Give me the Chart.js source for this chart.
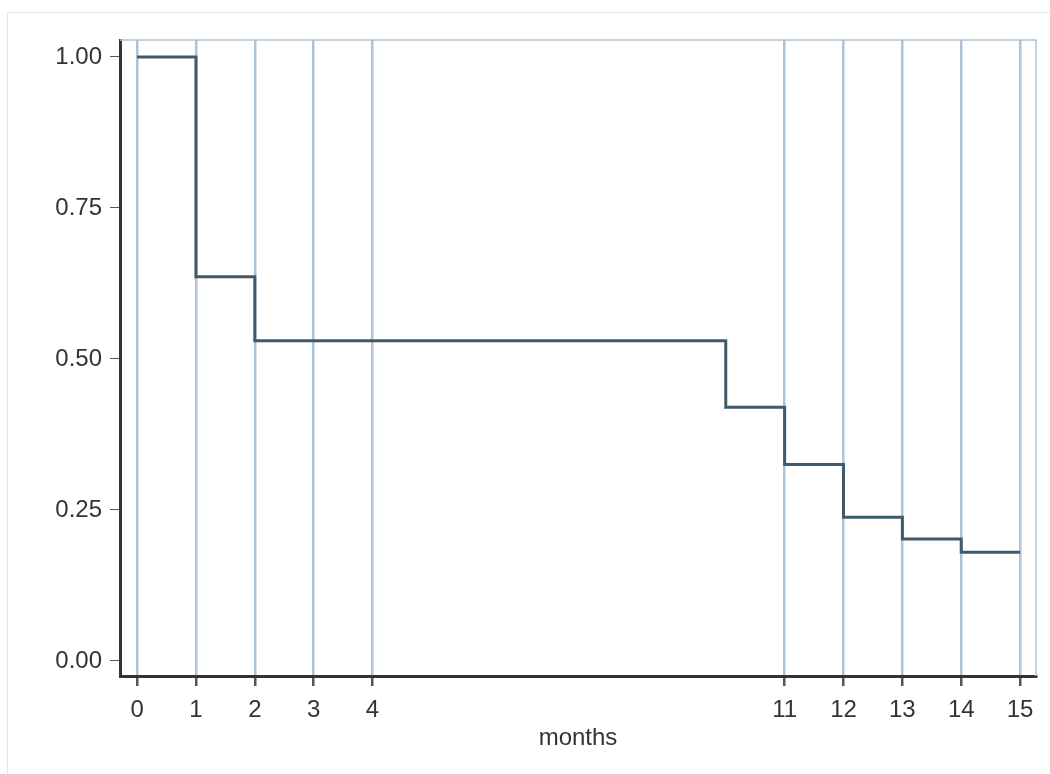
<!DOCTYPE html>
<html>
<head>
<meta charset="utf-8">
<script src="https://cdn.jsdelivr.net/npm/chart.js@4/dist/chart.umd.min.js"></script>
<style>
  html, body { margin: 0; padding: 0; background: #fff; overflow: hidden; }
  #frame { position: absolute; left: 7px; top: 12px; width: 1100px; height: 800px;
           border-left: 1px solid #e6e6e6; border-top: 1px solid #e6e6e6; }
  #survChart { position: absolute; left: 0; top: 0; }
</style>
</head>
<body>
<div id="frame"></div>
<canvas id="survChart" width="1050" height="774"></canvas>
<script>
// survival curve: value holds from each time until the next one
const months = [0, 1, 2, 10, 11, 12, 13, 14, 15];
const survival = [1.0, 0.636, 0.53, 0.42, 0.325, 0.238, 0.202, 0.18, 0.18];
const xTicks = [0, 1, 2, 3, 4, 11, 12, 13, 14, 15];
const yTicks = [0, 0.25, 0.5, 0.75, 1.0];

const gridBlue = '#adc3d8';
const ink = '#333333';
const labelFont = { family: 'Liberation Sans, Arial, sans-serif', size: 24 };

// light frame on top and right of the plot panel
const panelFrame = {
  id: 'panelFrame',
  afterDatasetsDraw(chart) {
    const a = chart.chartArea;
    const ctx = chart.ctx;
    ctx.save();
    ctx.strokeStyle = gridBlue;
    ctx.lineWidth = 1.5;
    ctx.beginPath();
    ctx.moveTo(a.left, a.top);
    ctx.lineTo(a.right, a.top);
    ctx.lineTo(a.right, a.bottom);
    ctx.stroke();
    ctx.restore();
  }
};

const ctx = document.getElementById('survChart').getContext('2d');
new Chart(ctx, {
  type: 'line',
  data: {
    datasets: [{
      data: months.map((m, i) => ({ x: m, y: survival[i] })),
      stepped: true,
      borderColor: '#3e5a6b',
      borderWidth: 3,
      pointRadius: 0,
      fill: false
    }]
  },
  options: {
    responsive: false,
    animation: false,
    layout: { padding: { left: 0, top: 40, right: 14, bottom: 0 } },
    plugins: { legend: { display: false }, tooltip: { enabled: false } },
    scales: {
      x: {
        type: 'linear',
        min: -0.29,
        max: 15.27,
        afterBuildTicks: s => { s.ticks = xTicks.map(v => ({ value: v })); },
        afterFit: s => { s.height = 98; },
        ticks: { color: ink, font: labelFont, padding: 10, autoSkip: false, maxRotation: 0 },
        grid: { color: gridBlue, lineWidth: 2.5, tickColor: '#555', tickLength: 10, drawOnChartArea: true },
        border: { color: ink, width: 3 },
        title: { display: true, text: 'months', color: ink, font: labelFont, padding: { top: 2, bottom: 21 } }
      },
      y: {
        min: -0.025,
        max: 1.028,
        afterBuildTicks: s => { s.ticks = yTicks.map(v => ({ value: v })); },
        afterFit: s => { s.width = 120; },
        ticks: { color: ink, font: labelFont, padding: 8, callback: v => v.toFixed(2) },
        grid: { drawOnChartArea: false, tickColor: '#555', tickLength: 10 },
        border: { color: ink, width: 3 }
      }
    }
  },
  plugins: [panelFrame]
});
</script>
</body>
</html>
